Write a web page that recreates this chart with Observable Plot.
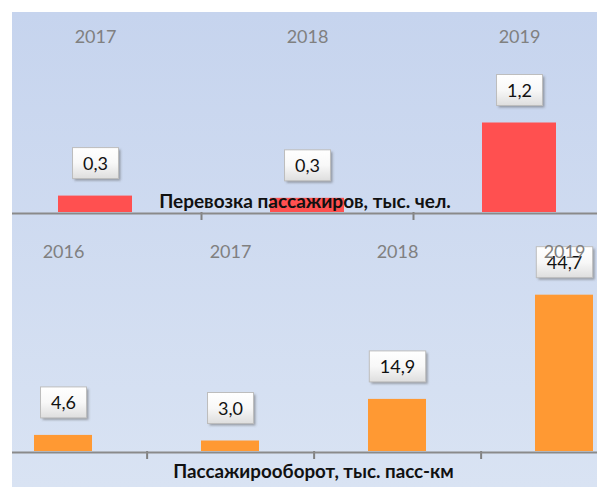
<!DOCTYPE html>
<html><head><meta charset="utf-8">
<script src="https://cdn.jsdelivr.net/npm/d3@7"></script>
<script src="https://cdn.jsdelivr.net/npm/@observablehq/plot@0.6"></script>
<style>
html,body{margin:0;padding:0;background:#fff;}
#wrap{position:relative;width:597px;height:487px;overflow:hidden;}
#bg{position:absolute;left:12px;top:12px;width:585px;height:475px;background:linear-gradient(#C6D4EE,#D9E3F3);}
.panel{position:absolute;left:0;}
.panel svg{display:block;}
</style></head><body>
<div id="wrap"><div id="bg"></div></div>
<script>
// ---- data ----
const years1 = ["2017", "2018", "2019"];
const passengers = [0.22, 0.19, 1.2];
const passengerLabels = ["0,3", "0,3", "1,2"];
const title1 = "Перевозка пассажиров, тыс. чел.";

const years2 = ["2016", "2017", "2018", "2019"];
const turnover = [4.6, 3.0, 14.9, 44.7];
const turnoverLabels = ["4,6", "3,0", "14,9", "44,7"];
const title2 = "Пассажирооборот, тыс. пасс-км";

const FONT = "Lato, 'Open Sans', sans-serif";
const ns = "http://www.w3.org/2000/svg";

function addBoxes(svg, id) {
  const defs = document.createElementNS(ns, "defs");
  defs.innerHTML = `<linearGradient id="gb${id}" x1="0" y1="0" x2="0" y2="1">
      <stop offset="0" stop-color="#ffffff"/><stop offset="0.5" stop-color="#f8f8f8"/><stop offset="1" stop-color="#dedede"/></linearGradient>
      <filter id="bl${id}" x="-20%" y="-20%" width="140%" height="140%"><feGaussianBlur stdDeviation="1"/></filter>`;
  svg.insertBefore(defs, svg.firstChild);
  const g = svg.querySelector('g[aria-description="value labels"]');
  if (!g) return;
  const texts = Array.from(g.querySelectorAll("text"));
  for (const t of texts) {
    const bb = t.getBBox();
    const w = bb.width + 21, h = 31;
    const cx = bb.x + bb.width / 2, cy = -1;
    const bg = document.createElementNS(ns, "g");
    const tr = t.getAttribute("transform");
    if (tr) bg.setAttribute("transform", tr);
    bg.innerHTML = `<rect x="${cx - w / 2 + 2}" y="${cy - h / 2 + 2}" width="${w}" height="${h}" fill="#5a5a5a" fill-opacity="0.5" stroke="none" filter="url(#bl${id})"/>
      <rect x="${cx - w / 2}" y="${cy - h / 2}" width="${w}" height="${h}" fill="url(#gb${id})" stroke="#bdbdbd" stroke-width="1"/>`;
    g.insertBefore(bg, g.firstChild);
  }
}

function panel(cfg, id) {
  const data = cfg.years.map((y, i) => ({year: y, value: cfg.values[i], label: cfg.labels[i]}));
  const step = (cfg.xRange[1] - cfg.xRange[0]) / cfg.years.length;
  const bounds = cfg.years.slice(0, -1);
  const y0 = cfg.yRange[0];
  const svg = Plot.plot({
    width: 597, height: cfg.height,
    marginLeft: 12, marginRight: 0, marginTop: 0, marginBottom: 0,
    style: {background: "transparent", overflow: "hidden", fontFamily: FONT},
    x: {type: "band", domain: cfg.years, range: cfg.xRange, paddingInner: 0.65, paddingOuter: 0.325, axis: null},
    y: {domain: cfg.yDomain, range: cfg.yRange, axis: null},
    marks: [
      Plot.barY(data, {x: "year", y: "value", fill: cfg.color}),
      Plot.tickX(bounds, {x: d => d, dx: step / 2, insetTop: y0, insetBottom: cfg.height - y0 - 8, stroke: "#808080", strokeWidth: 2}),
      Plot.ruleY([0], {stroke: "#8a8a8a", strokeWidth: 2.2, dy: 1}),
      Plot.text(data, {x: "year", y: "value", text: "label", dy: -32, fontSize: 18, fill: "#111", fontFamily: FONT, ariaDescription: "value labels"}),
      Plot.text(cfg.years, {x: d => d, frameAnchor: "top", lineAnchor: "middle", dy: cfg.yearY, text: d => d, fill: "#808080", fontSize: 18, fontFamily: FONT}),
      Plot.text([cfg.title], {frameAnchor: "top", lineAnchor: "middle", dy: cfg.titleY, dx: cfg.titleDx, text: d => d, fontWeight: "bold", fontSize: cfg.titleSize, fill: "#111", fontFamily: FONT})
    ]
  });
  const div = document.createElement("div");
  div.className = "panel";
  div.style.top = cfg.top + "px";
  div.style.zIndex = cfg.z;
  div.appendChild(svg);
  document.getElementById("wrap").appendChild(div);
  addBoxes(svg, id);
}

panel({
  years: years2, values: turnover, labels: turnoverLabels, title: title2, color: "#FF9933",
  top: 226, height: 261, xRange: [-21, 648], yDomain: [0, 45], yRange: [225, 225 - 45 * 3.497],
  yearY: 25.5, titleY: 245, titleDx: 8.5, titleSize: 18.8, z: 1
}, "b");

panel({
  years: years1, values: passengers, labels: passengerLabels, title: title1, color: "#FF5050",
  top: 0, height: 226, xRange: [-11, 625], yDomain: [0, 1.2], yRange: [212, 122.5],
  yearY: 37, titleY: 201, titleDx: 0, titleSize: 19, z: 2
}, "a");
</script>
</body></html>
